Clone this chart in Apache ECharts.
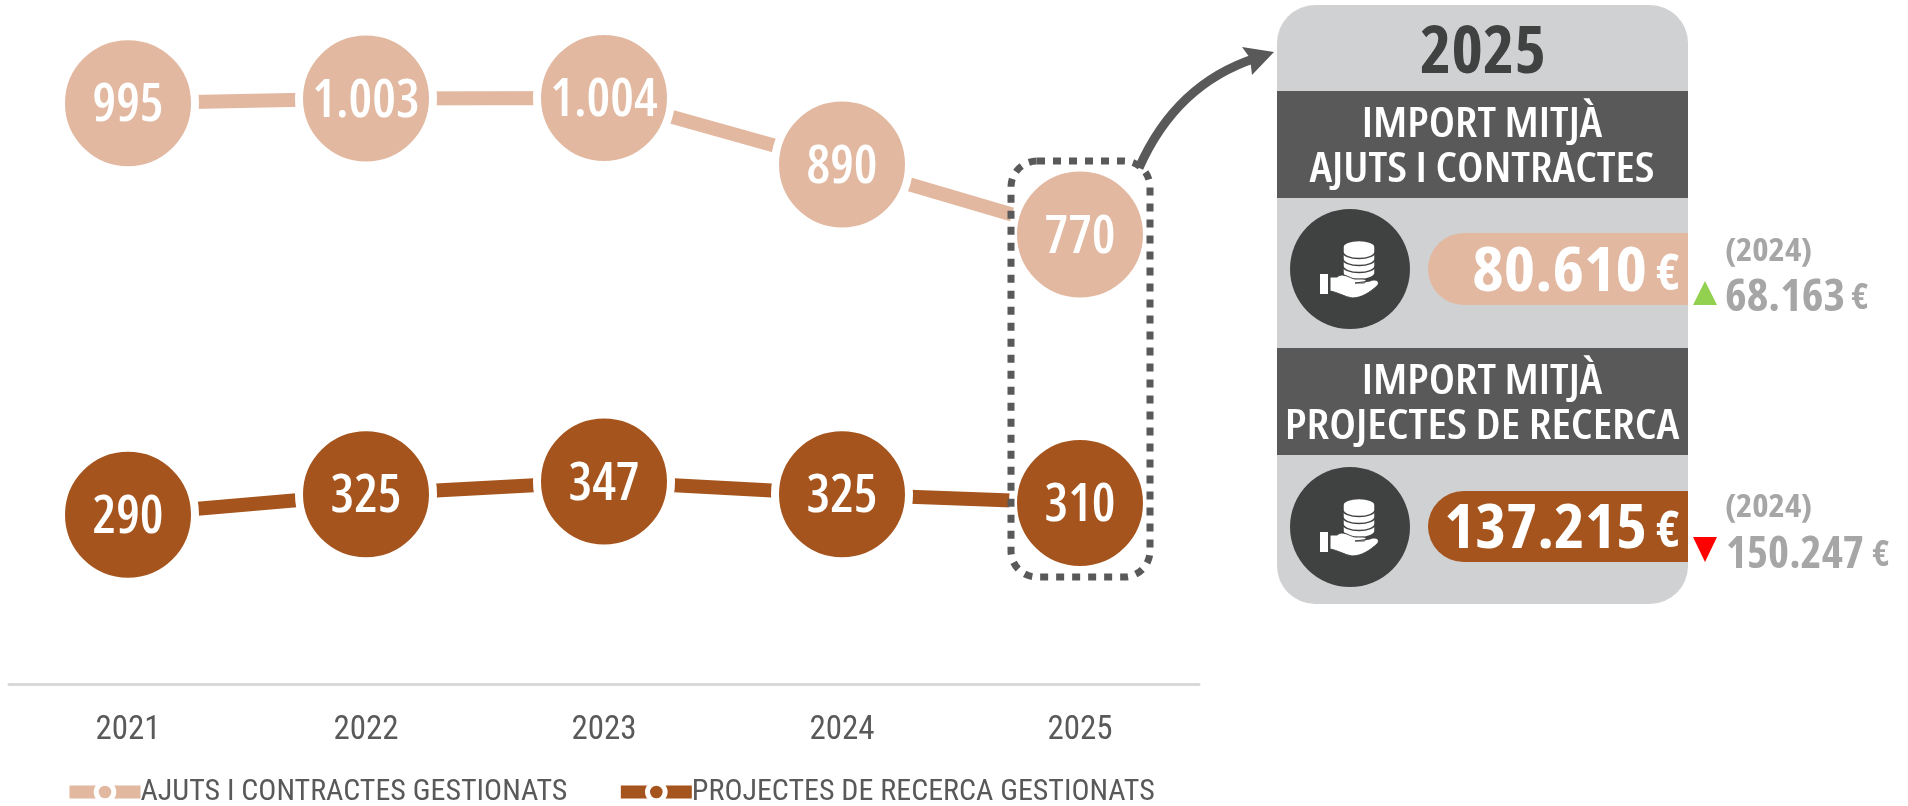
<!DOCTYPE html>
<html><head><meta charset="utf-8">
<style>html,body{margin:0;padding:0;background:#fff}#c{width:1908px;height:806px}</style>
<script src="https://cdn.jsdelivr.net/npm/echarts@6/dist/echarts.min.js"></script>
</head><body><div id="c"></div>
<script>
const years = ['2021','2022','2023','2024','2025'];
const ajuts = [995,1003,1004,890,770];
const projectes = [290,325,347,325,310];
const seriesNames = ['AJUTS I CONTRACTES GESTIONATS','PROJECTES DE RECERCA GESTIONATS'];
const panelYear = '2025';
const importAjuts = '80.610';
const importProjectes = '137.215';
const prevYear = '(2024)';
const prevAjuts = '68.163';
const prevProjectes = '150.247';
const LIGHT='#E2B8A0', DARK='#A6541D', SLATE='#595959', CHAR='#404241', GREY='#A6A6A6', PANEL='#D0D1D3';
const FONT='"Open Sans"';
const C4='400 condensed', C6='600 condensed', C7='700 condensed';

echarts.graphic.registerShape('coinShape',echarts.graphic.extendPath('M-7 0 A16 6.5 0 0 1 25 0 L25 5 A16 6.5 0 0 1 -7 5 Z',{}));
echarts.graphic.registerShape('palmShape',echarts.graphic.extendPath('M-20 8 L-13 8 C-7 3 -1 9 5 10 L13 10 C17 10 17 14 13 14 L5 14 L20 12 C26 9 31 13 27 17 C20 23 12 29 2 29 C-5 28 -13 23 -20 22 Z',{}));

function fmt(v){return String(v).replace(/\B(?=(\d{3})+$)/g,'.');}
function line(name,data,color){
  return {name,type:'line',data,symbol:'circle',symbolSize:134,showSymbol:true,
    lineStyle:{color,width:14},
    itemStyle:{color,borderColor:'#fff',borderWidth:8},
    label:{show:true,position:'inside',offset:[0,3],color:'#fff',fontFamily:FONT,fontSize:53,fontWeight:C6,formatter:p=>fmt(p.value)},
    emphasis:{disabled:true},animation:false};
}
function T(text,x,y,size,color,weight,align,sx){
  return {type:'text',z:20,x,y,scaleX:sx||1,style:{text,fontFamily:FONT,fontSize:size,fill:color,fontWeight:weight||C6,align:align||'center',verticalAlign:'middle'}};
}
function R(x,y,w,h,fill,r){
  return {type:'rect',z:15,shape:{x,y,width:w,height:h,r:r||0},style:{fill}};
}
function icon(cx,cy){
  const ch=[{type:'circle',z:16,shape:{cx:0,cy:0,r:60},style:{fill:CHAR}}];
  [-1,-8,-15,-22].forEach(dy=>{
    ch.push({type:'coinShape',z:17,x:0,y:dy,style:{fill:'#fff',stroke:CHAR,lineWidth:1.5}});
  });
  ch.push({type:'rect',z:17,shape:{x:-30,y:5,width:8,height:20},style:{fill:'#fff'}});
  ch.push({type:'palmShape',z:17,style:{fill:'#fff',stroke:CHAR,lineWidth:1}});
  return {type:'group',x:cx,y:cy,children:ch};
}
const chart=echarts.init(document.getElementById('c'),null,{renderer:'canvas'});
chart.setOption({
  animation:false,
  backgroundColor:'#fff',
  grid:{left:9,width:1190,top:43,height:641},
  legend:{left:63,top:777,padding:0,itemWidth:71,itemHeight:22,itemGap:47,data:seriesNames,
    lineStyle:{width:13,cap:'butt'},itemStyle:{borderColor:'#fff',borderWidth:5},
    textStyle:{fontFamily:'Roboto',fontSize:30,fontWeight:C4,color:SLATE,padding:[0,0,0,-5]},selectedMode:false},
  xAxis:{type:'category',data:years,boundaryGap:true,
    axisLine:{show:true,lineStyle:{color:'#D9D9D9',width:3}},axisTick:{show:false},
    axisLabel:{color:SLATE,fontFamily:'Roboto',fontSize:33,fontWeight:C4,margin:30}},
  yAxis:{type:'value',min:0,max:1098,show:false,splitLine:{show:false}},
  series:[line(seriesNames[0],ajuts,LIGHT),line(seriesNames[1],projectes,DARK)],
  graphic:[
    {type:'rect',z:12,shape:{x:1011,y:161,width:139,height:416,r:26},style:{fill:'none',stroke:SLATE,lineWidth:7,lineDash:[8,8]}},
    {type:'bezierCurve',z:12,shape:{x1:1139,y1:168,cpx1:1176,cpy1:84,x2:1256,y2:58},style:{fill:'none',stroke:SLATE,lineWidth:9}},
    {type:'polygon',z:12,shape:{points:[[1274,52],[1242,47],[1250,58],[1252,75]]},style:{fill:SLATE}},
    R(1277,5,411,599,PANEL,38),
    R(1277,91,411,107,SLATE),
    R(1277,348,411,107,SLATE),
    R(1428,233,260,72,LIGHT,[36,0,0,36]),
    R(1428,491,260,71,DARK,[36,0,0,36]),
    icon(1350,269),icon(1350,527),
    T(panelYear,1483,54,67,CHAR,C7),
    T('IMPORT MITJÀ',1482,125,42,'#fff',C6,'center',1.1),
    T('AJUTS I CONTRACTES',1482,170,42,'#fff',C6,'center',1.11),
    T('IMPORT MITJÀ',1482,382,42,'#fff',C6,'center',1.1),
    T('PROJECTES DE RECERCA',1482,427,42,'#fff',C6,'center',1.12),
    T(importAjuts,1647,274,60,'#fff',C7,'right',1.12),
    T('€',1668,276,50,'#fff',C7),
    T(importProjectes,1647,531,60,'#fff',C7,'right',1.1),
    T('€',1668,533,50,'#fff',C7),
    T(prevYear,1725,252,32,GREY,C7,'left',1.09),
    T(prevAjuts,1725,298,44,GREY,C7,'left',1.05),
    T('€',1860,299,36,GREY,C7),
    T(prevYear,1725,508,32,GREY,C7,'left',1.09),
    T(prevProjectes,1726,555,44,GREY,C7,'left',1.02),
    T('€',1881,556,36,GREY,C7),
    {type:'polygon',z:20,shape:{points:[[1705,281],[1717,305],[1693,305]]},style:{fill:'#92D050'}},
    {type:'polygon',z:20,shape:{points:[[1693,537],[1717,537],[1705,562]]},style:{fill:'#FF0000'}}
  ]
});
</script></body></html>
